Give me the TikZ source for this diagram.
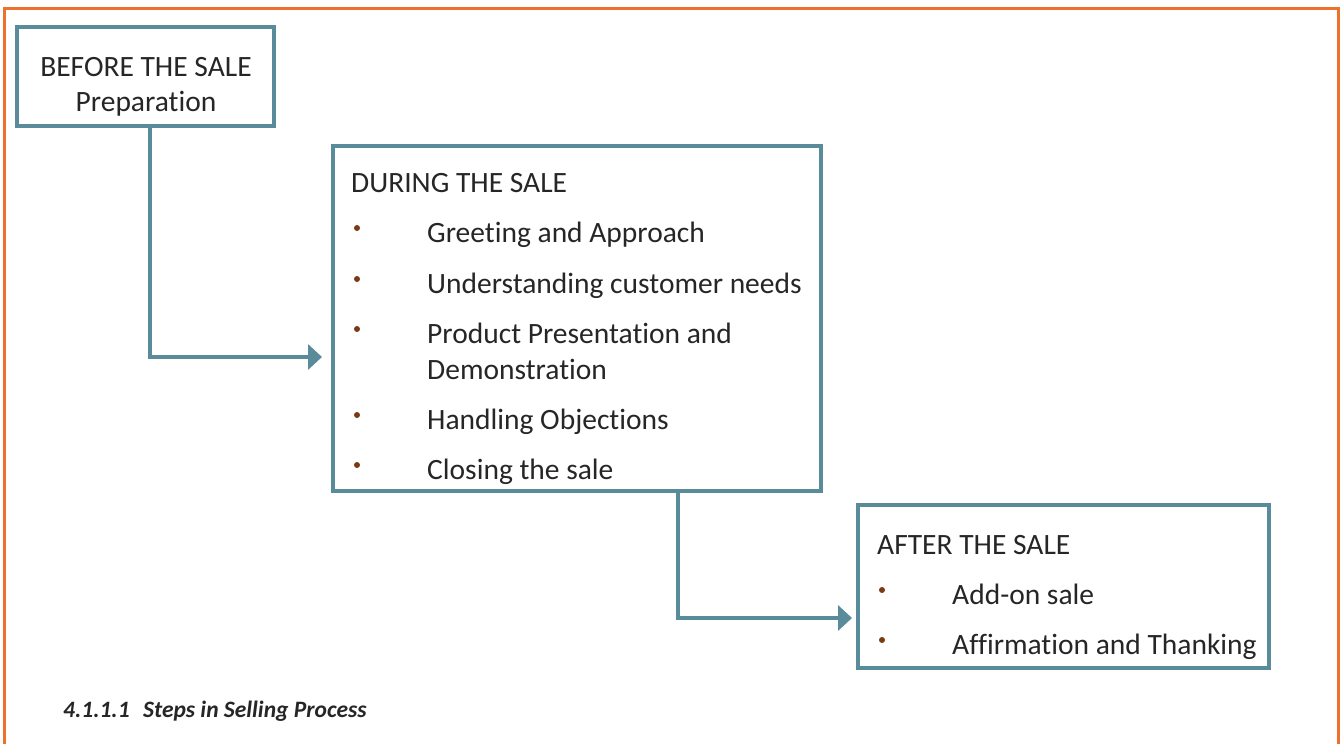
\documentclass[tikz,border=0pt]{standalone}
\usepackage{fontspec}
\setmainfont[Ligatures=NoCommon]{Carlito}
\usetikzlibrary{arrows.meta}
\definecolor{frameorange}{RGB}{237,112,45}
\definecolor{stepteal}{RGB}{90,139,155}
\definecolor{bulletbrown}{RGB}{122,58,18}
\definecolor{textgray}{RGB}{38,38,38}
\tikzset{
  stepbox/.style={draw=stepteal, line width=4pt, fill=white, rectangle, inner sep=0pt},
  conn/.style={draw=stepteal, line width=4pt, -{Triangle[length=14pt,width=25pt]}},
  txt/.style={anchor=base west, inner sep=0pt, text=textgray, font=\fontsize{29.5}{35}\selectfont},
  ctxt/.style={anchor=base, inner sep=0pt, text=textgray, font=\fontsize{29.5}{35}\selectfont},
  bul/.style={circle, fill=bulletbrown, inner sep=0pt, minimum size=6pt},
  caption/.style={anchor=base west, inner sep=0pt, text=textgray, font=\fontsize{23.5}{28}\selectfont\bfseries\itshape}
}
\begin{document}
\begin{tikzpicture}[x=1pt,y=-1pt]
\useasboundingbox (0,0) rectangle (1341,744);
% page frame, open at the bottom
\draw[frameorange, line width=3pt] (4,744) -- (4,8) -- (1338,8) -- (1338,744);

% the three stages
\node[stepbox, minimum width=257pt, minimum height=99pt] (before) at (145.5,76.5) {};
\node[stepbox, minimum width=488pt, minimum height=345pt] (during) at (577,318.5) {};
\node[stepbox, minimum width=411pt, minimum height=163pt] (after) at (1063.5,586.5) {};

% connectors between stages
\draw[conn, shorten >=9pt] ([xshift=4pt]before.south) |- ([yshift=-38.5pt]during.west);
\draw[conn, shorten >=4pt] ([xshift=101pt]during.south) |- ([yshift=-31.5pt]after.west);

% BEFORE THE SALE
\node[ctxt] (b1) at (146,76) {BEFORE THE SALE};
\node[ctxt] (b2) at (146,111) {Preparation};

% DURING THE SALE
\node[txt] (d0) at (351,192) {DURING THE SALE};
\node[bul] (db1) at (357,228) {};
\node[txt] (d1) at (427,242) {Greeting and Approach};
\node[bul] (db2) at (357,279) {};
\node[txt] (d2) at (427,293) {Understanding customer needs};
\node[bul] (db3) at (357,329) {};
\node[txt] (d3) at (427,343) {Product Presentation and};
\node[txt] (d3b) at (427,379) {Demonstration};
\node[bul] (db4) at (357,415) {};
\node[txt] (d4) at (427,429) {Handling Objections};
\node[bul] (db5) at (357,465) {};
\node[txt] (d5) at (427,479) {Closing the sale};

% AFTER THE SALE
\node[txt] (a0) at (877,554) {AFTER THE SALE};
\node[bul] (ab1) at (882,590) {};
\node[txt] (a1) at (952,604) {Add-on sale};
\node[bul] (ab2) at (882,640) {};
\node[txt] (a2) at (952,654) {Affirmation and Thanking};

% figure caption
\node[caption] (cap) at (63,717) {4.1.1.1\hspace{0.35em} Steps in Selling Process};
\end{tikzpicture}
\end{document}
